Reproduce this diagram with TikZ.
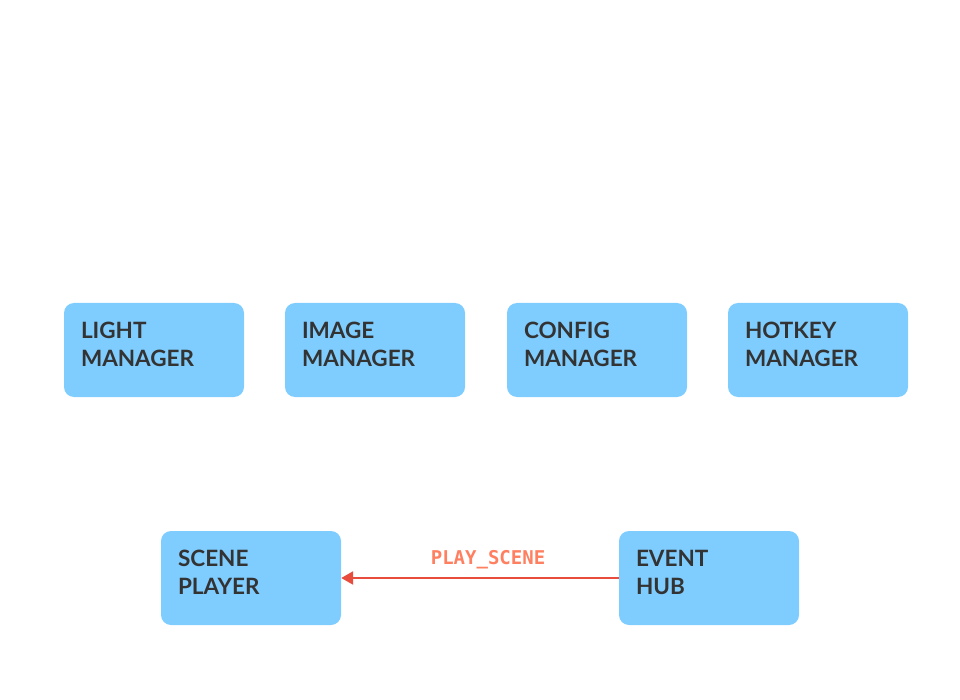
\documentclass[tikz,border=0pt]{standalone}
\usepackage{fontspec}
\setmainfont{Lato}
\newfontfamily\labelfont{DejaVu Sans Mono}
\usetikzlibrary{arrows.meta}
\definecolor{boxblue}{HTML}{7FCDFF}
\definecolor{boxtext}{HTML}{333333}
\definecolor{linkred}{HTML}{E74C3C}
\definecolor{labelred}{HTML}{FF7F61}

\begin{document}
\begin{tikzpicture}[x=1pt,y=-1pt,
    module/.style={fill=boxblue,rounded corners=10pt,minimum width=180pt,
        minimum height=94pt,text width=146pt,align=left,inner sep=0pt,
        text=boxtext,font=\fontsize{22.5}{28}\selectfont\bfseries,
        execute at end node={\endgraf\vspace*{12pt}}},
    event/.style={draw=linkred,line width=2.5pt,-{Triangle[length=12pt,width=13pt]}}]
            \useasboundingbox (0,0) rectangle (960,700);
            \node[module] (light) at (154,350) {LIGHT\\MANAGER};
            \node[module] (image) at (375,350) {IMAGE\\MANAGER};
            \node[module] (config) at (597,350) {CONFIG\\MANAGER};
            \node[module] (hotkey) at (818,350) {HOTKEY\\MANAGER};
            \node[module] (player) at (251,578) {SCENE\\PLAYER};
            \node[module] (hub) at (709,578) {EVENT\\HUB};
            \draw [event] (hub) -- (player) node[pos=0.5,above=4pt,xshift=8pt,
                text=labelred,font=\labelfont\bfseries\fontsize{19}{20}\selectfont]{PLAY\_SCENE};
        \end{tikzpicture}
\end{document}
